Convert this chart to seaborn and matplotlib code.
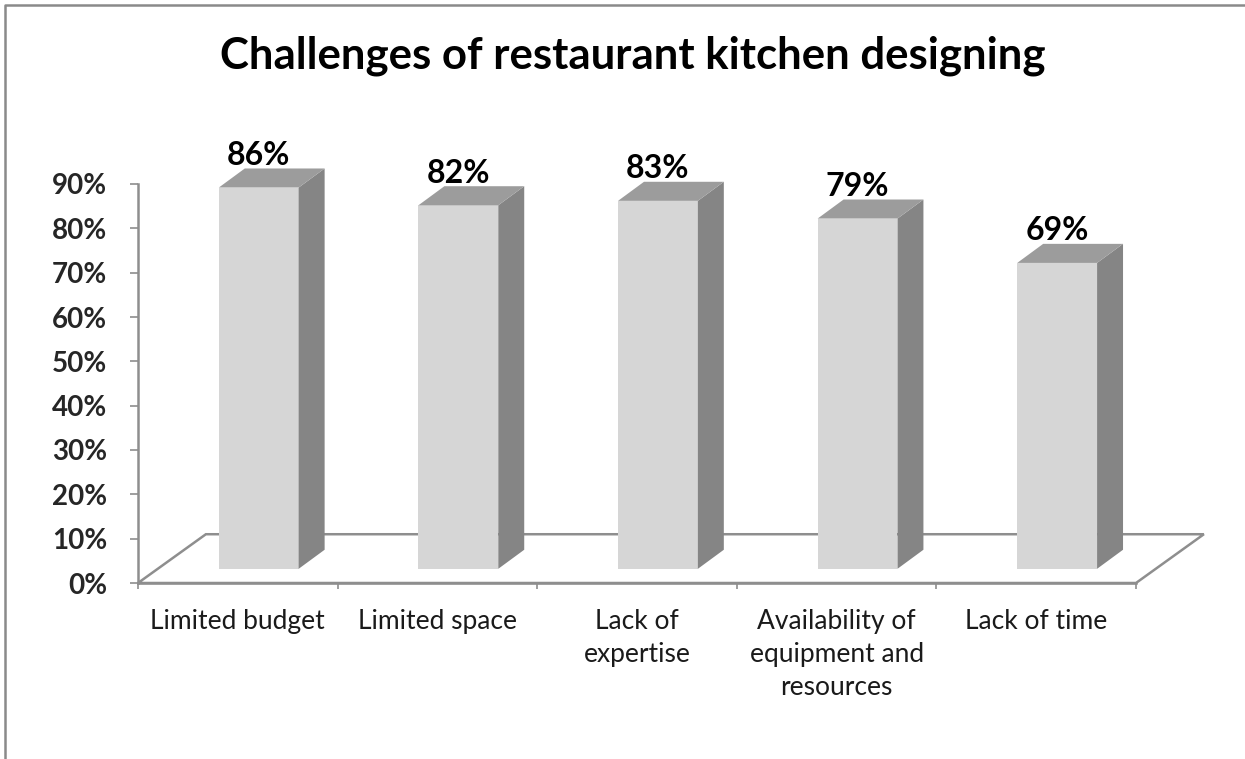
import numpy as np
import pandas as pd
import matplotlib.pyplot as plt
from matplotlib.patches import Polygon
from matplotlib.lines import Line2D
import seaborn as sns

# dados do grafico
categorias = ["Limited budget",
              "Limited space",
              "Lack of\nexpertise",
              "Availability of\nequipment and\nresources",
              "Lack of time"]
valores = [86, 82, 83, 79, 69]   # percentual
titulo = "Challenges of restaurant kitchen designing"

dados = pd.DataFrame({"categoria": categorias, "valor": valores})

sns.set_style("white")
plt.rcParams['font.family'] = ['Lato', 'DejaVu Sans']

cor_frente = "#d6d6d6"
cor_lado = "#858585"
cor_topo = "#9c9c9c"
cor_linha = "#8e8e8e"

# deslocamentos do efeito 3d (em unidades dos eixos)
desl_x, desl_y = 0.105, 3.2      # face da frente em relacao ao piso
prof_x, prof_y = 0.13, 4.3       # profundidade da barra
piso_x, piso_y = 0.34, 11.0      # profundidade do piso

fig = plt.figure(figsize=(12.45, 7.59), dpi=100)
ax = fig.add_axes([138/1245, 1-583/759, 998/1245, 399/759])

# piso (so o contorno)
x0, x1 = -0.5, len(categorias) - 0.5
piso = Polygon([(x0, 0), (x1, 0), (x1 + piso_x, piso_y), (x0 + piso_x, piso_y)],
               closed=True, fill=False, edgecolor=cor_linha, lw=1.8,
               clip_on=False, zorder=1)
ax.add_patch(piso)

sns.barplot(data=dados, x="categoria", y="valor", color=cor_frente,
            saturation=1, width=0.4, ax=ax, zorder=3)

for p in list(ax.patches):
    if not hasattr(p, "get_width") or p is piso:
        continue
    bx = p.get_x() + desl_x
    w = p.get_width()
    h = p.get_height()
    p.set_x(bx)
    p.set_y(desl_y)
    p.set_clip_on(False)
    p.set_edgecolor("none")
    y0 = desl_y
    y1 = desl_y + h
    lado = Polygon([(bx + w, y0), (bx + w + prof_x, y0 + prof_y),
                    (bx + w + prof_x, y1 + prof_y), (bx + w, y1)],
                   closed=True, facecolor=cor_lado, edgecolor="none",
                   clip_on=False, zorder=3)
    topo = Polygon([(bx, y1), (bx + w, y1), (bx + w + prof_x, y1 + prof_y),
                    (bx + prof_x, y1 + prof_y)],
                   closed=True, facecolor=cor_topo, edgecolor="none",
                   clip_on=False, zorder=3)
    ax.add_patch(lado)
    ax.add_patch(topo)
    ax.text(bx + w/2, y1 + prof_y + 0.8, f"{h:.0f}%", ha="center", va="baseline",
            fontsize=23, fontweight="bold", color="black", clip_on=False)

ax.set_xlim(x0, x1)
ax.set_ylim(0, 90)
ax.set_yticks(np.arange(0, 91, 10))
ax.set_yticklabels([f"{v}%" for v in range(0, 91, 10)])
ax.set_xticks(range(len(categorias)))
ax.set_xticklabels(categorias, linespacing=1.4)
ax.set_xticks(np.arange(x0, x1 + 0.01, 1), minor=True)
ax.set_xlabel("")
ax.set_ylabel("")

ax.tick_params(axis="y", which="major", length=6, width=1.2, color=cor_linha,
               pad=16, labelsize=20, direction="out", left=True)
for t in ax.get_yticklabels():
    t.set_fontweight("bold")
ax.tick_params(axis="x", which="major", length=0, pad=19, labelsize=19,
               labelcolor="#1a1a1a")
ax.tick_params(axis="x", which="minor", length=4, width=1.2, color=cor_linha,
               direction="out", bottom=True)

sns.despine(ax=ax)
for lado_eixo in ["left", "bottom"]:
    ax.spines[lado_eixo].set_color(cor_linha)
    ax.spines[lado_eixo].set_linewidth(1.8)

fig.text(633/1245, 1-69/759, titulo, ha="center", va="baseline",
         fontsize=31.5, fontweight="bold", color="black")

# moldura externa
fig.add_artist(Line2D([5.5/1245, 5.5/1245, 1.0], [0.0, 1-5/759, 1-5/759],
                      transform=fig.transFigure, color="#8a8a8a", lw=1.8))

plt.savefig("out.png", dpi=100)
